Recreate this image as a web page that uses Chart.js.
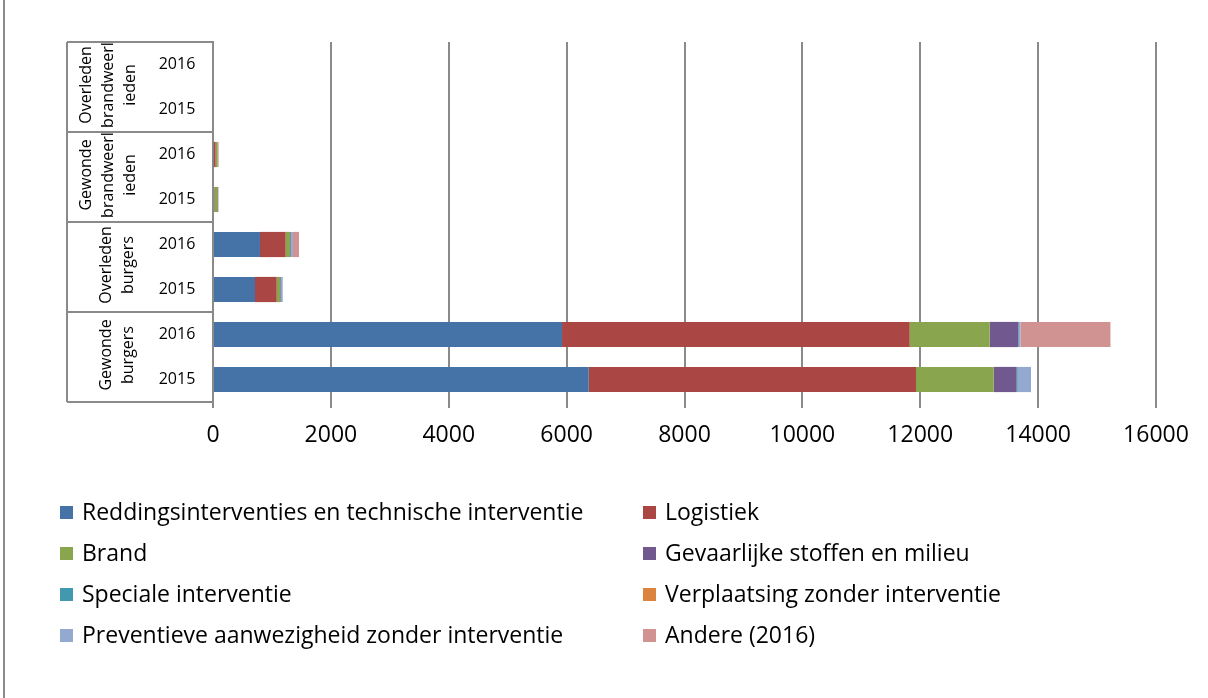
<!DOCTYPE html>
<html>
<head>
<meta charset="utf-8">
<script src="https://cdn.jsdelivr.net/npm/chart.js@4"></script>
<style>
html,body{margin:0;padding:0;background:#fff;}
#wrap{width:1208px;height:698px;position:relative;}
</style>
</head>
<body>
<div id="wrap"><canvas id="c" width="1208" height="698"></canvas></div>
<script>
// ---- data (bottom-to-top order of the category axis) ----
const groups = [["Gewonde","burgers"],["Overleden","burgers"],["Gewonde","brandweerl","ieden"],["Overleden","brandweerl","ieden"]];
const years = ["2015","2016"];
const seriesNames = ["Reddingsinterventies en technische interventie","Logistiek","Brand","Gevaarlijke stoffen en milieu","Speciale interventie","Verplaatsing zonder interventie","Preventieve aanwezigheid zonder interventie","Andere (2016)"];
const redding      = [6375, 5922, 713, 797, 20, 15, 0, 0];
const logistiek    = [5553, 5899, 368, 436, 10, 30, 0, 0];
const brand        = [1318, 1357, 57, 73, 55, 35, 0, 0];
const gevaarlijk   = [390, 485, 11, 12, 5, 0, 0, 0];
const speciale     = [17, 12, 6, 12, 0, 0, 0, 0];
const verplaatsing = [0, 0, 0, 0, 0, 0, 0, 0];
const preventief   = [226, 25, 28, 27, 0, 0, 0, 0];
const andere       = [0, 1527, 0, 102, 0, 15, 0, 0];
const xTicks = [0,2000,4000,6000,8000,10000,12000,14000,16000];

const colors = ["#4572A7","#AA4643","#89A54E","#71588F","#4198AF","#DB843D","#93A9CF","#D19392"];
const values = [redding,logistiek,brand,gevaarlijk,speciale,verplaatsing,preventief,andere];

const labels = [];
groups.forEach(g => years.forEach(y => labels.push(g.join("") + " " + y)));

const FONT = "'Open Sans', sans-serif";
const GRID = "#8a8a8a";

const sidePlugin = {
  id: "side",
  afterDraw(chart) {
    const ctx = chart.ctx;
    const ys = chart.scales.y;
    const ca = chart.chartArea;
    ctx.save();
    // outer left border
    ctx.strokeStyle = GRID; ctx.lineWidth = 2;
    ctx.beginPath(); ctx.moveTo(4, 0); ctx.lineTo(4, 698); ctx.stroke();
    // label box lines
    const lx = 67;
    ctx.beginPath(); ctx.moveTo(lx, ca.top); ctx.lineTo(lx, ca.bottom); ctx.stroke();
    for (let gi = 0; gi <= groups.length; gi++) {
      let yy;
      if (gi === 0) yy = ca.bottom;
      else if (gi === groups.length) yy = ca.top;
      else yy = (ys.getPixelForValue(gi*2 - 1) + ys.getPixelForValue(gi*2)) / 2;
      ctx.beginPath(); ctx.moveTo(lx, yy); ctx.lineTo(ca.left, yy); ctx.stroke();
    }
    // year labels
    ctx.fillStyle = "#000";
    ctx.font = "16px " + FONT;
    ctx.textAlign = "center"; ctx.textBaseline = "middle";
    labels.forEach((l, i) => {
      ctx.fillText(years[i % years.length], 177, ys.getPixelForValue(i));
    });
    // group labels (rotated)
    groups.forEach((g, gi) => {
      const cy = (ys.getPixelForValue(gi*2) + ys.getPixelForValue(gi*2+1)) / 2;
      const lh = 22;
      const cx = g.length === 3 ? 108 : 117;
      ctx.save();
      ctx.translate(cx, cy);
      ctx.rotate(-Math.PI/2);
      g.forEach((line, li) => {
        ctx.fillText(line, 2, (li - (g.length-1)/2) * lh);
      });
      ctx.restore();
    });
    // legend (two columns)
    ctx.font = "23px " + FONT;
    ctx.textAlign = "left";
    seriesNames.forEach((name, i) => {
      const col = i % 2, row = Math.floor(i / 2);
      const bx = col === 0 ? 60 : 643;
      const yy = 512 + row * 41;
      ctx.fillStyle = colors[i];
      ctx.fillRect(bx, yy - 6, 13, 13);
      ctx.fillStyle = "#000";
      ctx.fillText(name, bx + 22, yy + 1);
    });
    ctx.restore();
  }
};

function draw() {
  new Chart(document.getElementById("c"), {
    type: "bar",
    data: {
      labels: labels,
      datasets: seriesNames.map((n, i) => ({
        label: n, data: values[i], backgroundColor: colors[i],
        borderWidth: 0, categoryPercentage: 1, barPercentage: 0.56
      }))
    },
    options: {
      indexAxis: "y",
      responsive: false,
      animation: false,
      layout: { padding: { top: 42, right: 52, left: 0, bottom: 0 } },
      plugins: { legend: { display: false }, tooltip: { enabled: false }, title: { display: false } },
      scales: {
        x: {
          stacked: true, min: 0, max: 16000,
          afterBuildTicks: s => { s.ticks = xTicks.map(v => ({ value: v })); },
          afterFit: s => { s.height = 296; },
          ticks: { color: "#000", font: { family: FONT, size: 23 }, padding: 14, maxRotation: 0,
                   callback: v => String(v) },
          grid: { color: GRID, lineWidth: 2, drawTicks: true, tickLength: 6, tickColor: GRID },
          border: { display: false }
        },
        y: {
          stacked: true, reverse: true,
          afterFit: s => { s.width = 213; },
          ticks: { display: false },
          grid: { display: false, drawTicks: false },
          border: { display: true, color: GRID, width: 2 }
        }
      }
    },
    plugins: [sidePlugin]
  });
}
if (document.fonts && document.fonts.load) {
  Promise.all([document.fonts.load("16px 'Open Sans'"), document.fonts.load("23px 'Open Sans'")]).then(draw, draw);
} else draw();
</script>
</body>
</html>
